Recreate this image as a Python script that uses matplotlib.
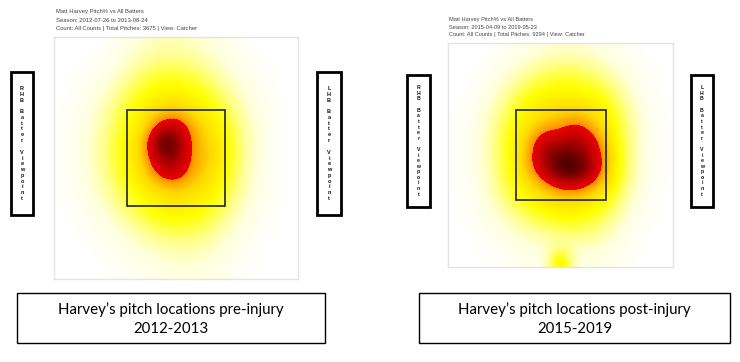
import numpy as np
import matplotlib
matplotlib.use("Agg")
import matplotlib.pyplot as plt
from matplotlib.colors import LinearSegmentedColormap
from matplotlib.patches import Rectangle

# ---------------- data ----------------
titles_pre = ["Matt Harvey Pitch% vs All Batters",
              "Season: 2012-07-26 to 2013-08-24",
              "Count: All Counts | Total Pitches: 3675 | View: Catcher"]
titles_post = ["Matt Harvey Pitch% vs All Batters",
               "Season: 2015-04-09 to 2019-05-23",
               "Count: All Counts | Total Pitches: 9294 | View: Catcher"]
captions = ["Harvey\u2019s pitch locations pre-injury\n2012-2013",
            "Harvey\u2019s pitch locations post-injury\n2015-2019"]
side_labels = ["RHB Batter Viewpoint", "LHB Batter Viewpoint"]

# pitch density (15 x 15 cells, top row first, catcher view)
density_pre = [
    [0, 0, 0, .03, .08, .12, .15, .15, .13, .10, .06, .03, 0, 0, 0],
    [0, 0, .02, .06, .12, .18, .22, .22, .20, .15, .10, .05, .02, 0, 0],
    [0, .02, .05, .10, .18, .25, .30, .30, .28, .22, .15, .08, .04, .01, 0],
    [0, .03, .08, .15, .25, .32, .36, .38, .35, .30, .22, .12, .06, .02, 0],
    [.01, .05, .10, .20, .30, .38, .46, .50, .43, .35, .28, .16, .08, .03, 0],
    [.01, .06, .12, .22, .33, .43, .66, .72, .54, .45, .33, .20, .10, .03, 0],
    [.01, .07, .14, .25, .36, .50, .92, .88, .56, .48, .36, .22, .10, .03, 0],
    [.01, .07, .14, .25, .36, .50, .78, .82, .56, .50, .37, .22, .10, .03, 0],
    [.01, .06, .13, .23, .34, .45, .64, .70, .54, .46, .35, .20, .09, .03, 0],
    [.01, .05, .11, .20, .30, .38, .45, .48, .45, .40, .30, .18, .08, .02, 0],
    [0, .03, .08, .15, .25, .32, .38, .40, .38, .33, .25, .14, .06, .02, 0],
    [0, .02, .05, .10, .17, .24, .30, .32, .30, .26, .18, .10, .04, .01, 0],
    [0, 0, .03, .06, .10, .15, .20, .22, .22, .18, .12, .06, .02, 0, 0],
    [0, 0, .01, .03, .06, .09, .12, .14, .14, .12, .08, .04, .01, 0, 0],
    [0, 0, 0, .01, .03, .05, .07, .09, .09, .07, .05, .02, 0, 0, 0],
]
density_post = [
    [0, 0, 0, .02, .05, .08, .10, .12, .12, .10, .07, .04, .02, 0, 0],
    [0, 0, .02, .05, .10, .15, .20, .22, .22, .19, .14, .08, .04, .01, 0],
    [0, .01, .04, .10, .17, .24, .28, .30, .30, .27, .22, .14, .07, .02, 0],
    [0, .02, .07, .15, .25, .32, .36, .38, .38, .35, .30, .20, .10, .03, 0],
    [.01, .03, .10, .20, .30, .38, .44, .46, .47, .44, .36, .25, .13, .04, .01],
    [.01, .04, .12, .24, .34, .45, .52, .56, .62, .55, .42, .28, .15, .05, .01],
    [.01, .05, .13, .26, .37, .54, .72, .70, .78, .68, .50, .30, .16, .05, .01],
    [.01, .05, .13, .26, .38, .58, .80, .88, .85, .75, .55, .32, .16, .05, .01],
    [.01, .05, .12, .25, .37, .56, .74, .92, .95, .78, .55, .32, .15, .05, .01],
    [.01, .04, .11, .23, .34, .45, .56, .66, .68, .60, .45, .28, .13, .04, .01],
    [.01, .03, .09, .19, .28, .36, .42, .46, .46, .42, .35, .22, .10, .03, 0],
    [0, .02, .06, .13, .20, .27, .32, .35, .35, .32, .26, .16, .07, .02, 0],
    [0, .01, .04, .08, .13, .18, .22, .25, .26, .24, .18, .10, .04, .01, 0],
    [0, 0, .02, .04, .07, .10, .12, .14, .15, .14, .11, .06, .02, 0, 0],
    [0, 0, .01, .02, .04, .05, .08, .50, .08, .07, .06, .03, .01, 0, 0],
]

# ---------------- style ----------------
W, H = 740, 362
fig = plt.figure(figsize=(W / 100, H / 100), dpi=100)
fig.patch.set_facecolor("white")

cmap = LinearSegmentedColormap.from_list("heat", [
    (0.00, (1, 1, 1)),
    (0.10, (1, 1, 0.86)),
    (0.20, (1, 1, 0.55)),
    (0.33, (1, 1, 0.0)),
    (0.47, (1, 0.85, 0.0)),
    (0.595, (1, 0.55, 0.0)),
    (0.60, (0.93, 0.0, 0.0)),
    (0.72, (0.75, 0.0, 0.0)),
    (0.86, (0.40, 0.0, 0.0)),
    (1.00, (0.05, 0.0, 0.0)),
])

bg = fig.add_axes([0, 0, 1, 1])
bg.set_xlim(0, W)
bg.set_ylim(H, 0)
bg.axis("off")


def px_axes(x0, y0, x1, y1):
    return fig.add_axes([x0 / W, 1 - y1 / H, (x1 - x0) / W, (y1 - y0) / H])


panels = [
    dict(box=(54, 37, 298, 279), data=density_pre, titles=titles_pre,
         tx=56, ty=12, tdy=8.4, tfs=4.2,
         lbox=(11, 72, 33, 215), rbox=(317, 72, 341, 215), lfs=4.0, lls=1.2,
         cap=(17, 293, 325, 343)),
    dict(box=(448, 43, 673, 267), data=density_post, titles=titles_post,
         tx=449, ty=20, tdy=7.4, tfs=4.1,
         lbox=(407, 75, 430, 207), rbox=(691, 75, 713, 207), lfs=3.7, lls=1.15,
         cap=(419, 293, 730, 343)),
]

for i, p in enumerate(panels):
    x0, y0, x1, y1 = p["box"]
    ax = px_axes(x0, y0, x1, y1)
    arr = np.array(p["data"], dtype=float)
    ax.imshow(arr, cmap=cmap, vmin=0, vmax=1, interpolation="bicubic",
              extent=(0, 1, 1, 0), aspect="auto")
    ax.add_patch(Rectangle((0.30, 0.30), 0.40, 0.40, fill=False,
                           edgecolor="#222222", linewidth=1.2))
    ax.set_xlim(0, 1)
    ax.set_ylim(1, 0)
    ax.set_xticks([])
    ax.set_yticks([])
    for s in ax.spines.values():
        s.set_edgecolor("#e4e4e4")
        s.set_linewidth(1.0)

    for k, t in enumerate(p["titles"]):
        bg.text(p["tx"], p["ty"] + k * p["tdy"], t, fontsize=p["tfs"],
                color="#444444", ha="left", va="center",
                family="Liberation Sans")

    for lb, label in zip((p["lbox"], p["rbox"]), side_labels):
        bx0, by0, bx1, by1 = lb
        bg.add_patch(Rectangle((bx0, by0), bx1 - bx0, by1 - by0, fill=False,
                               edgecolor="black", linewidth=2.0))
        bg.text((bx0 + bx1) / 2, (by0 + by1) / 2, "\n".join(label),
                fontsize=p["lfs"], linespacing=p["lls"], ha="center",
                va="center", multialignment="center", fontweight="bold",
                color="#111111", family="Liberation Sans")

    cx0, cy0, cx1, cy1 = p["cap"]
    bg.add_patch(Rectangle((cx0, cy0), cx1 - cx0, cy1 - cy0, fill=False,
                           edgecolor="black", linewidth=1.0))
    bg.text((cx0 + cx1) / 2, (cy0 + cy1) / 2 + 1, captions[i], fontsize=10.8,
            ha="center", va="center", linespacing=1.45, color="black",
            family="Lato")

fig.savefig("out.png", dpi=100, facecolor="white")
